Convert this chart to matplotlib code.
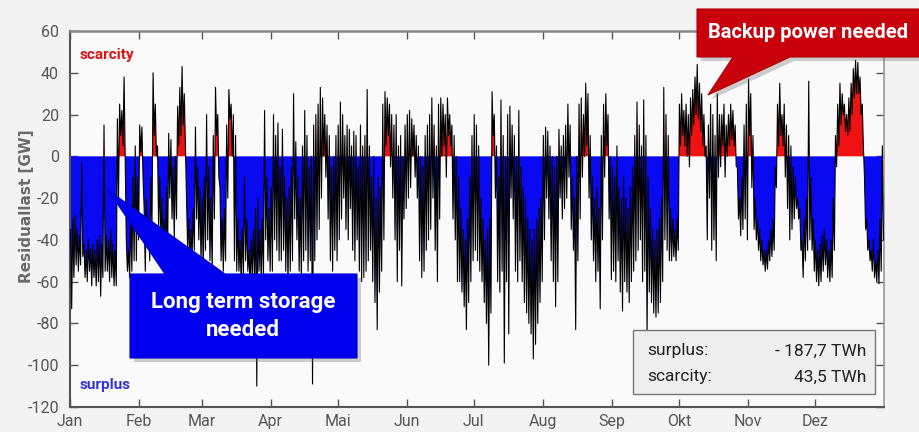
import numpy as np
import matplotlib
matplotlib.use("Agg")
import matplotlib.pyplot as plt
from matplotlib.patches import Polygon, Rectangle

# ---------------- data (GW), daily maximum / minimum of the residual load ----------------
month_labels = ['Jan', 'Feb', 'Mar', 'Apr', 'Mai', 'Jun', 'Jul', 'Aug', 'Sep', 'Okt', 'Nov', 'Dez']
month_start_day = [0, 31, 59, 90, 120, 151, 181, 212, 243, 273, 304, 334]
y_ticks = [-120, -100, -80, -60, -40, -20, 0, 20, 40, 60]

hi_jan = [-35, -30, -28, -35, -38, -3, -42, -45, -40, -44, -42, -45, -40, -38, -42, 15, -38, -40, -35, -42,
          -45, 18, 25, 22, 38, -40, -45, -30, -10, 5, -10]
lo_jan = [-73, -58, -52, -55, -52, -48, -58, -60, -55, -62, -58, -62, -60, -67, -58, -55, -55, -60, -58, -62,
          -62, -20, 10, 5, 0, -55, -58, -55, -50, -50, -40]
hi_feb = [15, 14, -25, -20, -30, -10, 40, 25, 5, -10, -20, -30, -15, 11, 8, -5, 0, 24, 33, 43,
          30, -20, -30, -35, -25, 14, -5, -15]
lo_feb = [2, -10, -55, -40, -50, -35, 10, 0, -35, -40, -45, -55, -50, -20, -30, -40, -30, 5, 10, 15,
          5, -45, -50, -48, -45, -30, -40, -50]
hi_mar = [-20, -10, 20, -5, -20, 10, 33, 20, -15, -30, -25, 15, 32, 25, 20, 10, -30, -40, -35, -10,
          -30, -45, -40, -35, -25, -20, -35, -30, 22, -10, -25]
lo_mar = [-55, -45, -40, -50, -55, -30, 10, -10, -50, -55, -50, -20, 18, 0, -50, -55, -55, -60, -58, -50,
          -55, -62, -60, -58, -110, -55, -60, -58, -40, -50, -55]
hi_apr = [-15, 20, 10, 16, -5, 13, -10, -20, -15, -5, 30, 7, -10, -20, 5, 22, 10, -5, 0, 15,
          20, 25, 33, 28, 20, 15, 10, -5, 0, 10]
lo_apr = [-55, -40, -45, -50, -50, -45, -55, -60, -55, -50, -30, -40, -55, -60, -50, -45, -55, -50, -109, -50,
          -40, -35, -20, 0, -10, -30, -50, -55, -45, -50]
hi_mai = [15, 26, 20, 10, 15, 13, 5, 12, 10, -5, 15, 5, 10, 32, 5, -10, 0, -20, -10, -15,
          25, 31, 28, 25, 20, 15, 20, 5, 10, 0, 15]
lo_mai = [-40, -30, -20, -35, -40, -25, -45, -50, -40, -55, -60, -58, -55, -50, -45, -60, -70, -83, -65, -55,
          -40, 5, 10, -5, -20, -40, -60, -45, -62, -30, -25]
hi_jun = [20, 22, 18, 15, 10, 5, 0, -5, 10, 15, 20, 28, 15, 5, 25, 28, 25, 20, 28, 20,
          15, 10, 0, -10, -25, -35, -40, -30, -10, 10]
lo_jun = [-20, -15, 0, -10, -20, -50, -58, -55, -45, -40, -35, -20, -45, -60, -30, 0, 5, -10, 10, 5,
          -30, -40, -60, -60, -65, -72, -83, -70, -60, -50]
hi_jul = [20, 15, 5, -20, -30, -40, -35, -30, 31, 20, 5, -10, 27, 10, 0, 20, 24, 15, 10, 0,
          22, -5, -15, -20, -30, -35, -40, -35, -30, -25, -20]
lo_jul = [-45, -50, -55, -60, -70, -80, -100, -75, 10, -20, -60, -65, -55, -99, -60, -85, -20, -30, -55, -60,
          -50, -60, -70, -75, -80, -85, -97, -90, -80, -70, -60]
hi_aug = [10, 14, 12, 5, 0, -5, 0, 13, 5, 10, 15, 25, 15, -10, -20, 0, 25, 28, 20, 35,
          30, 10, -10, -20, -15, -25, 10, 25, 30, 20, 0]
lo_aug = [-40, -20, -30, -50, -60, -72, -60, -20, -30, -25, -20, -10, -35, -45, -83, -50, -30, -10, 0, 5,
          -20, -40, -50, -60, -55, -73, -40, -10, 5, -30, -59]
hi_sep = [-5, -10, 5, -15, -20, -10, -20, -25, -15, -5, 10, 26, 15, 5, 27, 10, -10, -25, -35, -40,
          -35, -30, -20, 33, 20, 10, -25, -30, -35, -30]
lo_sep = [-55, -60, -50, -65, -74, -60, -65, -70, -60, -55, -50, -45, -40, -60, -55, -85, -65, -70, -75, -77,
          -75, -70, -60, -40, -45, -50, -50, -48, -50, -45]
hi_okt = [25, 30, 22, 25, 20, 28, 32, 38, 44, 35, 30, 20, 5, 15, 25, 20, 10, 30, 20, 20,
          25, 15, 20, 25, 22, 15, -5, -20, -10, 15, 25]
lo_okt = [5, 10, 5, 0, -5, 10, 15, 20, 18, 12, 5, 0, -40, -20, -45, -40, -50, -10, -5, 5,
          -10, 0, 5, 8, 5, -5, -30, -38, -35, -30, -40]
hi_nov = [37, 30, 10, -20, -30, -35, -40, -45, -45, -40, -35, -30, -5, 25, 35, 20, 25, 15, 10, 5,
          -5, -10, -20, -25, -40, -30, -20, 36, -10, -30]
lo_nov = [10, -15, -35, -40, -45, -50, -52, -55, -54, -50, -48, -45, -15, 5, 10, 5, -10, -25, -40, -35,
          -30, -25, -30, -45, -58, -50, -45, -40, -45, -55]
hi_dez = [-40, -45, -42, -38, -35, -40, -45, -40, -20, 10, 25, 35, 30, 25, 20, 28, 35, 42, 46, 45,
          38, 25, -10, -30, -40, -45, -40, -50, -45, -30, 5]
lo_dez = [-60, -62, -60, -55, -52, -58, -60, -58, -45, -5, 5, 15, 20, 12, 10, 12, 20, 28, 30, 30,
          20, 5, -35, -45, -50, -55, -58, -60, -61, -55, -40]

surplus_text = '- 187,7 TWh'
scarcity_text = '43,5 TWh'

daily_max = np.array(hi_jan + hi_feb + hi_mar + hi_apr + hi_mai + hi_jun +
                     hi_jul + hi_aug + hi_sep + hi_okt + hi_nov + hi_dez, dtype=float)
daily_min = np.array(lo_jan + lo_feb + lo_mar + lo_apr + lo_mai + lo_jun +
                     lo_jul + lo_aug + lo_sep + lo_okt + lo_nov + lo_dez, dtype=float)

days = np.arange(len(daily_max))
x = np.column_stack([days + 0.25, days + 0.75]).ravel()
y = np.column_stack([daily_max, daily_min]).ravel()

# ---------------- figure ----------------
W, H = 920, 432
fig = plt.figure(figsize=(W / 100, H / 100), dpi=100, facecolor='#f3f3f3')
ax = fig.add_axes([70 / W, 25 / H, 814 / W, 376 / H])
ax.set_facecolor('#fafafa')

BLUE = '#0a0af2'
RED = '#f01212'
ax.fill_between(x, 0, y, where=y <= 0, interpolate=True, color=BLUE, lw=0, zorder=2)
ax.fill_between(x, 0, y, where=y >= 0, interpolate=True, color=RED, lw=0, zorder=2)
ax.plot(x, y, color='#000000', lw=0.8, zorder=3)

ax.set_xlim(0, 365)
ax.set_ylim(-120, 60)
ax.set_xticks(month_start_day)
ax.set_xticklabels(month_labels)
ax.set_yticks(y_ticks)
ax.set_yticklabels([str(v) for v in y_ticks])

FONT = ['Roboto', 'DejaVu Sans']
ax.tick_params(axis='both', direction='in', length=6, width=1, color='#555555',
               labelcolor='#555555', labelsize=11.5, top=True, right=True)
ax.tick_params(axis='x', pad=5)
ax.tick_params(axis='y', pad=8)
for lab in ax.get_xticklabels() + ax.get_yticklabels():
    lab.set_family(FONT)

for side, col, lw in [('left', '#555555', 1.5), ('bottom', '#555555', 1.5),
                      ('top', '#888888', 1.8), ('right', '#999999', 1.2)]:
    ax.spines[side].set_color(col)
    ax.spines[side].set_linewidth(lw)

fig.text(27 / W, 1 - 206 / H, 'Residuallast [GW]', rotation=90, ha='center', va='center',
         fontsize=11, fontweight='bold', color='#6a6a6a', family='DejaVu Sans')

# ---------------- overlay in pixel coordinates ----------------
ov = fig.add_axes([0, 0, 1, 1], zorder=10)
ov.set_xlim(0, W)
ov.set_ylim(H, 0)
ov.axis('off')
ov.patch.set_alpha(0)

ov.text(80, 55, 'scarcity', color='#dd1111', fontsize=11, fontweight='bold',
        family=FONT, ha='left', va='center')
ov.text(80, 385, 'surplus', color='#3333dd', fontsize=11, fontweight='bold',
        family=FONT, ha='left', va='center')

# blue callout
blue_poly = [(130, 274), (165, 274), (108, 190), (225, 274), (357, 274), (357, 358), (130, 358)]
ov.add_patch(Polygon([(px + 4, py + 4) for px, py in blue_poly], closed=True,
                     facecolor='#777777', alpha=0.35, lw=0))
ov.add_patch(Polygon(blue_poly, closed=True, facecolor='#0000ee', edgecolor='#0000cc', lw=0.8))
ov.text(243, 316, 'Long term storage\nneeded', color='white', fontsize=16, fontweight='bold',
        family=FONT, ha='center', va='center', linespacing=1.3)

# red callout
red_poly = [(697, 9), (922, 9), (922, 57), (790, 57), (708, 95), (733, 57), (697, 57)]
ov.add_patch(Polygon([(px + 4, py + 4) for px, py in red_poly], closed=True,
                     facecolor='#777777', alpha=0.35, lw=0))
ov.add_patch(Polygon(red_poly, closed=True, facecolor='#c8000c', edgecolor='#b00008', lw=0.8))
ov.text(808, 33, 'Backup power needed', color='white', fontsize=14.5, fontweight='bold',
        family=FONT, ha='center', va='center')

# stats box
ov.add_patch(Rectangle((633, 330), 242, 64, facecolor='#eeeeee', edgecolor='#777777', lw=1.0))
ov.text(647, 351, 'surplus:', color='#222222', fontsize=12.5, family=FONT, ha='left', va='center')
ov.text(647, 377, 'scarcity:', color='#222222', fontsize=12.5, family=FONT, ha='left', va='center')
ov.text(866, 351, surplus_text, color='#222222', fontsize=12.5, family=FONT, ha='right', va='center')
ov.text(866, 377, scarcity_text, color='#222222', fontsize=12.5, family=FONT, ha='right', va='center')

fig.savefig('out.png', dpi=100, facecolor=fig.get_facecolor())
